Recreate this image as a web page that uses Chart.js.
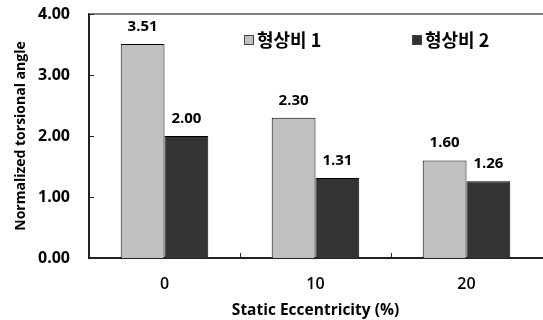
<!DOCTYPE html>
<html>
<head>
<meta charset="utf-8">
<script src="https://cdn.jsdelivr.net/npm/chart.js@4.4.1/dist/chart.umd.min.js"></script>
<style>
html,body{margin:0;padding:0;background:#fff;}
#wrap{width:543px;height:320px;position:relative;}
</style>
</head>
<body>
<div id="wrap"><canvas id="c" width="543" height="320"></canvas></div>
<script>
const categories = ['0', '10', '20'];
const series1Name = '형상비 1';
const series2Name = '형상비 2';
const series1 = [3.51, 2.30, 1.60];
const series2 = [2.00, 1.31, 1.26];
const yTicks = [0, 1, 2, 3, 4];
const yTitle = 'Normalized torsional angle';
const xTitle = 'Static Eccentricity (%)';

const FONT = "'Open Sans', 'Noto Sans CJK KR', sans-serif";
const KFONT = "'Noto Sans CJK KR', 'Open Sans', sans-serif";

const decor = {
  id: 'decor',
  afterDatasetsDraw(chart) {
    const ctx = chart.ctx;
    const ca = chart.chartArea;
    const xs = chart.scales.x, ys = chart.scales.y;
    ctx.save();
    // top border
    ctx.strokeStyle = '#808080';
    ctx.lineWidth = 2;
    ctx.beginPath();
    ctx.moveTo(ca.left, ca.top);
    ctx.lineTo(ca.right + 2, ca.top);
    ctx.stroke();
    // inward y ticks
    ctx.strokeStyle = '#222';
    ctx.lineWidth = 1;
    yTicks.forEach(v => {
      const y = Math.round(ys.getPixelForValue(v)) + 0.5;
      ctx.beginPath();
      ctx.moveTo(ca.left, y);
      ctx.lineTo(ca.left + 5, y);
      ctx.stroke();
    });
    // inward x ticks at category boundaries
    for (let i = 1; i < categories.length; i++) {
      const x = Math.round((xs.getPixelForValue(i - 1) + xs.getPixelForValue(i)) / 2) + 0.5;
      ctx.beginPath();
      ctx.moveTo(x, ca.bottom);
      ctx.lineTo(x, ca.bottom - 5);
      ctx.stroke();
    }
    // data labels
    ctx.fillStyle = '#000';
    ctx.font = 'bold 15px ' + FONT;
    ctx.textAlign = 'center';
    ctx.textBaseline = 'alphabetic';
    chart.data.datasets.forEach((ds, di) => {
      const meta = chart.getDatasetMeta(di);
      meta.data.forEach((bar, i) => {
        ctx.fillText(ds.data[i].toFixed(2), bar.x, bar.y - 13);
      });
    });
    // y title
    ctx.save();
    ctx.translate(21, (ca.top + ca.bottom) / 2);
    ctx.rotate(-Math.PI / 2);
    ctx.font = 'bold 14px ' + FONT;
    ctx.textAlign = 'center';
    ctx.textBaseline = 'middle';
    ctx.fillText(yTitle, 0, 0);
    ctx.restore();
    // legend
    const items = [
      {label: series1Name, color: chart.data.datasets[0].backgroundColor, x: ca.left + 155},
      {label: series2Name, color: chart.data.datasets[1].backgroundColor, x: ca.left + 323}
    ];
    const ly = ca.top + 26;
    ctx.font = 'bold 18px ' + KFONT;
    ctx.textAlign = 'left';
    ctx.textBaseline = 'middle';
    items.forEach(it => {
      ctx.fillStyle = it.color;
      ctx.fillRect(it.x, ly - 4, 9, 9);
      ctx.strokeStyle = '#444';
      ctx.lineWidth = 1;
      ctx.strokeRect(it.x + 0.5, ly - 4.5, 9, 9);
      ctx.fillStyle = '#000';
      ctx.fillText(it.label, it.x + 13, ly);
    });
    ctx.restore();
  }
};

new Chart(document.getElementById('c'), {
  type: 'bar',
  data: {
    labels: categories,
    datasets: [
      {label: series1Name, data: series1, backgroundColor: '#c0c0c0', borderColor: '#000', borderWidth: 1,
       categoryPercentage: 0.58, barPercentage: 1.0},
      {label: series2Name, data: series2, backgroundColor: '#333333', borderColor: '#000', borderWidth: 1,
       categoryPercentage: 0.58, barPercentage: 1.0}
    ]
  },
  options: {
    responsive: false,
    animation: false,
    devicePixelRatio: 1,
    layout: {padding: {top: 14, right: 1, left: 0, bottom: 0}},
    plugins: {legend: {display: false}, tooltip: {enabled: false}},
    scales: {
      x: {
        type: 'category',
        offset: true,
        grid: {display: false, drawTicks: false},
        border: {display: true, color: '#222', width: 2},
        ticks: {color: '#000', font: {family: FONT, size: 16, weight: '600'}, padding: 17},
        title: {display: true, text: xTitle, color: '#000', font: {family: FONT, size: 15.5, weight: 'bold'}, padding: {top: 1, bottom: 0}},
        afterFit(s) { s.height = 62; s.paddingLeft = 0; s.paddingRight = 0; }
      },
      y: {
        min: 0, max: 4,
        ticks: {stepSize: 1, color: '#000', font: {family: FONT, size: 16, weight: 'bold'}, padding: 19,
          callback: v => Number(v).toFixed(2)},
        grid: {display: false, drawTicks: false},
        border: {display: true, color: '#222', width: 2},
        title: {display: false},
        afterFit(s) { s.width = 89; s.paddingTop = 0; s.paddingBottom = 0; }
      }
    }
  },
  plugins: [decor]
});
</script>
</body>
</html>
